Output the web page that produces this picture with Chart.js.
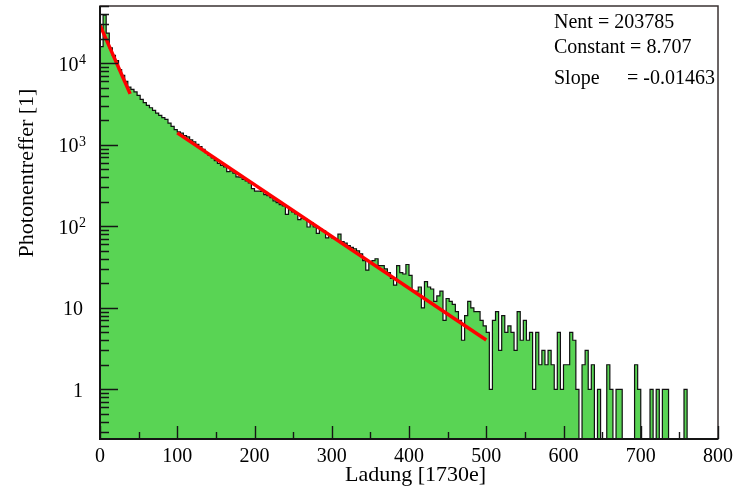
<!DOCTYPE html>
<html>
<head>
<meta charset="utf-8">
<script src="https://cdn.jsdelivr.net/npm/chart.js@4/dist/chart.umd.min.js"></script>
<style>
  html, body { margin: 0; padding: 0; background: #ffffff; }
  #wrap { width: 736px; height: 489px; }
</style>
</head>
<body>
<div id="wrap"><canvas id="c" width="736" height="489"></canvas></div>
<script>
// Charge spectrum: entries per 4-unit bin, 0..800
const binWidth = 4;
const counts = [
  16000, 39000, 23500, 15500, 12500, 10800, 8400, 7100, 6000, 5100,
  4800, 4450, 4050, 3600, 3300, 3050, 2850, 2650, 2450, 2300,
  2150, 2050, 1850, 1680, 1540, 1440, 1390, 1300, 1250, 1150,
  1090, 1010, 950, 880, 800, 740, 690, 640, 590, 560,
  535, 470, 480, 450, 405, 400, 375, 360, 340, 290,
  270, 270, 268, 245, 238, 225, 205, 195, 185, 178,
  140, 160, 150, 142, 121, 125, 122, 98, 110, 98,
  82, 92, 88, 72, 76, 72, 70, 80, 65, 62,
  58, 55, 53, 50, 46, 38, 29, 37, 38, 40,
  33, 33, 30, 27, 23, 19, 33, 27, 26, 34,
  25, 16, 16, 18, 10, 21, 18, 17, 12, 14,
  16, 7, 13, 12, 11, 9, 7, 4, 8, 12,
  10, 9, 9, 7, 6, 5, 1, 7, 9, 3,
  8, 5, 6, 5, 3, 9, 4, 7, 4, 5,
  1, 5, 2, 3, 2, 3, 2, 1, 5, 1,
  2, 2, 5, 4, 1, 0, 2, 3, 1, 2,
  0, 1, 0, 0, 2, 1, 0, 1, 1, 0,
  0, 0, 0, 2, 1, 0, 0, 0, 1, 0,
  1, 0, 1, 1, 0, 0, 0, 0, 0, 1,
  0, 0, 0, 0, 0, 0, 0, 0, 0, 0
];

// Axis ranges and labels
const xMin = 0, xMax = 800;
const yMin = 0.2455, yMax = 50500;
const xTickLabels = ['0', '100', '200', '300', '400', '500', '600', '700', '800'];
const xMajorStep = 100, xMinorStep = 50;
const yTickValues = [1, 10, 100, 1000, 10000];
const yTickBase = ['1', '10', '10', '10', '10'];
const yTickExp = ['', '', '2', '3', '4'];
const xTitle = 'Ladung [1730e]';
const yTitle = 'Photonentreffer [1]';

// Exponential fits: N(x) = exp(constant + slope * x)
const fitFrom = [0, 100];
const fitTo = [39, 500];
const fitConstant = [10.29, 8.707];
const fitSlope = [-0.0498, -0.01463];

// Statistics box
const statNames = ['Nent', 'Constant', 'Slope'];
const statValues = ['203785', '8.707', '-0.01463'];

const FONT = '"Liberation Serif", "DejaVu Serif", serif';

// Step outline points: value of bin i held over [i*w, (i+1)*w]
const floorValue = yMin / 10; // empty bins drop below the axis
const histPoints = [{ x: xMin, y: counts[0] > 0 ? counts[0] : floorValue }];
counts.forEach((v, i) => {
  histPoints.push({ x: (i + 1) * binWidth, y: v > 0 ? v : floorValue });
});

const fitDatasets = fitFrom.map((from, k) => ({
  label: 'fit' + k,
  data: [
    { x: from, y: Math.exp(fitConstant[k] + fitSlope[k] * from) },
    { x: fitTo[k], y: Math.exp(fitConstant[k] + fitSlope[k] * fitTo[k]) }
  ],
  borderColor: '#ff0000',
  borderWidth: 3.5,
  borderCapStyle: 'butt',
  pointRadius: 0,
  fill: false,
  tension: 0
}));

const frameAndText = {
  id: 'frameAndText',
  afterDraw(chart) {
    const ctx = chart.ctx;
    const a = chart.chartArea;
    const xs = chart.scales.x;
    const ys = chart.scales.y;
    ctx.save();

    // frame
    ctx.strokeStyle = '#3a3232';
    ctx.lineWidth = 1.5;
    ctx.strokeRect(a.left, a.top, a.right - a.left, a.bottom - a.top);

    // axis lines
    ctx.strokeStyle = '#151515';
    ctx.lineWidth = 2;
    ctx.beginPath();
    ctx.moveTo(a.left, a.top);
    ctx.lineTo(a.left, a.bottom);
    ctx.lineTo(a.right, a.bottom);
    ctx.stroke();

    // y ticks (inside), decades with 2..9 minors
    ctx.lineWidth = 1.4;
    ctx.beginPath();
    for (let k = -1; k <= 4; k++) {
      for (let m = 1; m <= 9; m++) {
        const v = m * Math.pow(10, k);
        if (v < yMin || v > yMax) continue;
        const py = Math.round(ys.getPixelForValue(v)) + 0.5;
        const len = m === 1 ? 18 : 9;
        ctx.moveTo(a.left, py);
        ctx.lineTo(a.left + len, py);
      }
    }
    // x ticks (inside)
    for (let v = xMin; v <= xMax; v += xMinorStep) {
      const px = Math.round(xs.getPixelForValue(v)) + 0.5;
      const len = v % xMajorStep === 0 ? 13 : 7;
      ctx.moveTo(px, a.bottom);
      ctx.lineTo(px, a.bottom - len);
    }
    ctx.stroke();

    ctx.fillStyle = '#000000';
    // x tick labels
    ctx.font = '20px ' + FONT;
    ctx.textAlign = 'center';
    ctx.textBaseline = 'alphabetic';
    xTickLabels.forEach((t, i) => {
      ctx.fillText(t, xs.getPixelForValue(xMin + i * xMajorStep), 462);
    });

    // y tick labels with superscript exponents
    yTickValues.forEach((v, i) => {
      const py = ys.getPixelForValue(v);
      let right = yTickExp[i] ? 86 : 83;
      ctx.textAlign = 'right';
      if (yTickExp[i]) {
        ctx.font = '14px ' + FONT;
        ctx.fillText(yTickExp[i], right, py + 1);
        right -= ctx.measureText(yTickExp[i]).width + 0.5;
      }
      ctx.font = '20px ' + FONT;
      ctx.fillText(yTickBase[i], right, py + 7.5);
    });

    // axis titles
    ctx.font = '22px ' + FONT;
    ctx.textAlign = 'left';
    ctx.fillText(xTitle, 345, 481);
    ctx.save();
    ctx.translate(33, 173);
    ctx.rotate(-Math.PI / 2);
    ctx.textAlign = 'center';
    ctx.fillText(yTitle, 0, 0);
    ctx.restore();

    // statistics
    ctx.font = '20px ' + FONT;
    ctx.textAlign = 'left';
    ctx.fillText(statNames[0] + ' = ' + statValues[0], 554, 28);
    ctx.fillText(statNames[1] + ' = ' + statValues[1], 554, 53);
    ctx.fillText(statNames[2], 554, 84);
    ctx.fillText('= ' + statValues[2], 627, 84);

    ctx.restore();
  }
};

new Chart(document.getElementById('c'), {
  type: 'line',
  data: {
    datasets: [
      ...fitDatasets,
      {
        label: 'Photonentreffer',
        data: histPoints,
        stepped: 'after',
        borderColor: '#111111',
        borderWidth: 1.2,
        backgroundColor: '#59d454',
        fill: 'start',
        pointRadius: 0,
        tension: 0
      }
    ]
  },
  options: {
    responsive: false,
    animation: false,
    devicePixelRatio: 1,
    layout: { padding: { left: 100, right: 18, top: 6, bottom: 50 } },
    plugins: { legend: { display: false }, tooltip: { enabled: false } },
    scales: {
      x: { type: 'linear', min: xMin, max: xMax, display: false },
      y: { type: 'logarithmic', min: yMin, max: yMax, bounds: 'data', display: false }
    }
  },
  plugins: [frameAndText]
});
</script>
</body>
</html>
